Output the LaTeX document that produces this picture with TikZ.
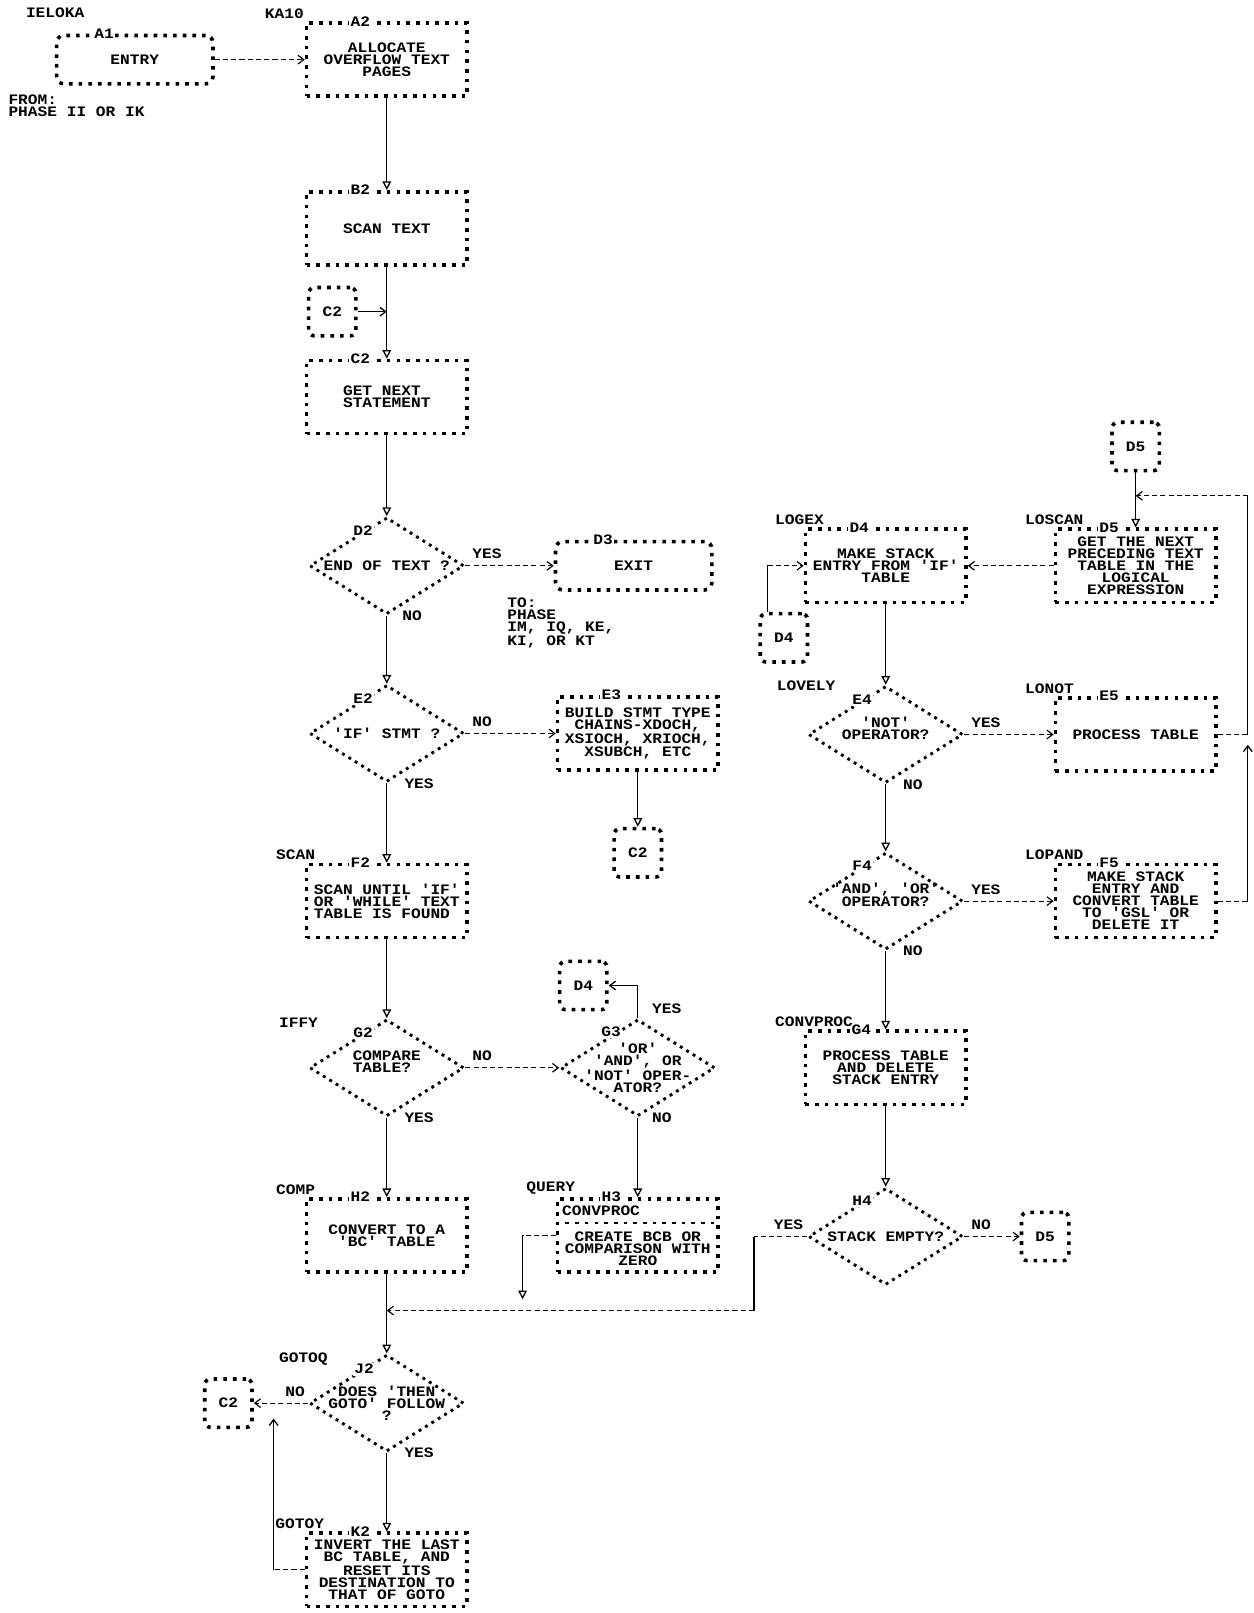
\documentclass[tikz,border=0pt]{standalone}
\usepackage{fontspec}
\setmonofont{Liberation Mono}[FakeStretch=1.12]
\usepackage{tikz}
\usetikzlibrary{arrows.meta}
\usetikzlibrary{positioning, shapes.geometric}
\newcommand{\lpfont}{\ttfamily\bfseries\fontsize{10pt}{8.3pt}\selectfont}
\tikzset{
    stars/.style={line width=2.5pt, dash pattern=on 2.5pt off 4.2pt},
    procbox/.style={rectangle, draw, stars, minimum width=3.9cm, minimum height=1.775cm, inner sep=0pt, align=center, font=\lpfont},
    termbox/.style={procbox, rounded corners=5pt, minimum width=3.8cm, minimum height=1.175cm},
    conn/.style={procbox, rounded corners=4pt, minimum width=1.15cm, minimum height=1.175cm},
    decide/.style={diamond, draw, line width=2pt, dash pattern=on 2pt off 3.2pt, minimum width=3.75cm, minimum height=2.35cm, inner sep=0pt},
    dtext/.style={font=\lpfont, align=center, inner sep=0pt},
    tag/.style={fill=white, inner sep=1pt, font=\lpfont},
    lab/.style={font=\lpfont, inner sep=0pt, align=left},
    yn/.style={font=\lpfont, inner sep=1pt},
    flow/.style={line width=0.9pt, -{Triangle[open, length=6pt, width=6pt]}},
    jump/.style={line width=0.8pt, dash pattern=on 3.5pt off 2.2pt, -{Straight Barb[length=4pt, width=6pt]}},
    jab/.style={line width=0.9pt, -{Straight Barb[length=4pt, width=6pt]}},
    wire/.style={line width=0.9pt},
    dwire/.style={line width=0.8pt, dash pattern=on 3.5pt off 2.2pt}
}
\begin{document}
\begin{tikzpicture}[on grid]
    \useasboundingbox (0,0) rectangle (30.475,-39.2);

    % left column
    \node[termbox] (a1) at (3.275,-1.45) {ENTRY};
    \node[procbox, right=6.125cm of a1] (a2) {ALLOCATE\\OVERFLOW TEXT\\PAGES};
    \node[procbox, below=4.1cm of a2] (b2) {SCAN TEXT};
    \node[procbox, below=4.1cm of b2, align=left] (c2) {GET NEXT\\STATEMENT};
    \node[conn, above left=2.075cm and 1.325cm of c2] (cc2a) {C2};
    \node[decide, below=4.1cm of c2, label={[dtext]center:{END OF TEXT ?}}] (d2) {};
    \node[termbox, right=6cm of d2] (d3) {EXIT};
    \node[decide, below=4.075cm of d2, label={[dtext]center:{'IF' STMT ?}}] (e2) {};
    \node[procbox, right=6.1cm of e2] (e3) {BUILD STMT TYPE\\CHAINS-XDOCH,\\XSIOCH, XRIOCH,\\XSUBCH, ETC};
    \node[conn, below=2.9cm of e3] (cc2b) {C2};
    \node[procbox, below=4.075cm of e2, align=left] (f2) {SCAN UNTIL 'IF'\\OR 'WHILE' TEXT\\TABLE IS FOUND};
    \node[decide, below=4.05cm of f2, label={[dtext, align=left, yshift=0.15cm]center:{COMPARE\\TABLE?}}] (g2) {};
    \node[decide, right=6.1cm of g2, label={[dtext]center:{'OR'\\'AND', OR\\'NOT' OPER-\\ATOR?}}] (g3) {};
    \node[conn, above left=2cm and 1.325cm of g3] (cd4a) {D4};
    \node[procbox, below=4.075cm of g2] (h2) {CONVERT TO A\\'BC' TABLE};
    \node[procbox, right=6.1cm of h2, label={[dtext, yshift=-0.325cm]center:{CREATE BCB OR\\COMPARISON WITH\\ZERO}}] (h3) {};
    \node[decide, below=4.075cm of h2, label={[dtext]center:{DOES 'THEN\\GOTO' FOLLOW\\?}}] (j2) {};
    \node[conn, left=3.85cm of j2] (cc2c) {C2};
    \node[procbox, below=4.05cm of j2] (k2) {INVERT THE LAST\\BC TABLE, AND\\RESET ITS\\DESTINATION TO\\THAT OF GOTO};

    % right part
    \node[procbox, right=6.125cm of d3] (d4) {MAKE STACK\\ENTRY FROM 'IF'\\TABLE};
    \node[procbox, right=6.075cm of d4] (d5) {GET THE NEXT\\PRECEDING TEXT\\TABLE IN THE\\LOGICAL\\EXPRESSION};
    \node[conn, above=2.9cm of d5] (cd5a) {D5};
    \node[conn, below left=1.75cm and 2.475cm of d4] (cd4b) {D4};
    \node[decide, below=4.1cm of d4, label={[dtext, yshift=0.15cm]center:{'NOT'\\OPERATOR?}}] (e4) {};
    \node[procbox, right=6.075cm of e4] (e5) {PROCESS TABLE};
    \node[decide, below=4.05cm of e4, label={[dtext, yshift=0.15cm]center:{'AND', 'OR'\\OPERATOR?}}] (f4) {};
    \node[procbox, right=6.075cm of f4] (f5) {MAKE STACK\\ENTRY AND\\CONVERT TABLE\\TO 'GSL' OR\\DELETE IT};
    \node[procbox, below=4.05cm of f4] (g4) {PROCESS TABLE\\AND DELETE\\STACK ENTRY};
    \node[decide, below=4.1cm of g4, label={[dtext]center:{STACK EMPTY?}}] (h4) {};
    \node[conn, right=3.875cm of h4] (cd5b) {D5};

    % block tags
    \node[tag] (ta1) at ([xshift=1.2cm]a1.north west) {A1};
    \node[tag] (ta2) at ([xshift=1.35cm]a2.north west) {A2};
    \node[tag] (tb2) at ([xshift=1.35cm]b2.north west) {B2};
    \node[tag] (tc2) at ([xshift=1.35cm]c2.north west) {C2};
    \node[tag] (td2) at ([shift={(-0.575cm,0.85cm)}]d2.center) {D2};
    \node[tag] (td3) at ([xshift=1.2cm]d3.north west) {D3};
    \node[tag] (te2) at ([shift={(-0.575cm,0.85cm)}]e2.center) {E2};
    \node[tag] (te3) at ([xshift=1.35cm]e3.north west) {E3};
    \node[tag] (tf2) at ([xshift=1.35cm]f2.north west) {F2};
    \node[tag] (tg2) at ([shift={(-0.575cm,0.85cm)}]g2.center) {G2};
    \node[tag] (tg3) at ([shift={(-0.65cm,0.875cm)}]g3.center) {G3};
    \node[tag] (th2) at ([xshift=1.35cm]h2.north west) {H2};
    \node[tag] (th3) at ([xshift=1.35cm]h3.north west) {H3};
    \node[tag] (tj2) at ([shift={(-0.55cm,0.825cm)}]j2.center) {J2};
    \node[tag] (tk2) at ([xshift=1.35cm]k2.north west) {K2};
    \node[tag] (td4) at ([xshift=1.35cm]d4.north west) {D4};
    \node[tag] (td5) at ([xshift=1.35cm]d5.north west) {D5};
    \node[tag] (te4) at ([shift={(-0.575cm,0.85cm)}]e4.center) {E4};
    \node[tag] (te5) at ([xshift=1.35cm]e5.north west) {E5};
    \node[tag] (tf4) at ([shift={(-0.575cm,0.85cm)}]f4.center) {F4};
    \node[tag] (tf5) at ([xshift=1.35cm]f5.north west) {F5};
    \node[tag] (tg4) at ([xshift=1.4cm]g4.north west) {G4};
    \node[tag] (th4) at ([shift={(-0.575cm,0.875cm)}]h4.center) {H4};

    % entry names and notes
    \node[lab, anchor=west] (lieloka) at (0.625,-0.3) {IELOKA};
    \node[lab, anchor=south west] (lka10) at ([shift={(-0.975cm,0.06cm)}]a2.north west) {KA10};
    \node[lab, anchor=north west] (lfrom) at (0.2,-2.29) {FROM:\\PHASE II OR IK};
    \node[lab, anchor=north west] (lto) at ([shift={(-3.075cm,-0.775cm)}]d3.center) {TO:\\PHASE\\IM, IQ, KE,\\KI, OR KT};
    \node[lab, anchor=south west] (lscan) at ([shift={(-0.7cm,0.06cm)}]f2.north west) {SCAN};
    \node[lab, anchor=west] (liffy) at ([shift={(-2.625cm,1.1cm)}]g2.center) {IFFY};
    \node[lab, anchor=south west] (lcomp) at ([shift={(-0.7cm,0.06cm)}]h2.north west) {COMP};
    \node[lab, anchor=south west] (lquery) at ([shift={(-0.72cm,0.06cm)}]h3.north west) {QUERY};
    \node[lab, anchor=west] (lgotoq) at ([shift={(-2.625cm,1.075cm)}]j2.center) {GOTOQ};
    \node[lab, anchor=south west] (lgotoy) at ([shift={(-0.72cm,0.06cm)}]k2.north west) {GOTOY};
    \node[lab, anchor=south west] (llogex) at ([shift={(-0.7cm,0.06cm)}]d4.north west) {LOGEX};
    \node[lab, anchor=south west] (lloscan) at ([shift={(-0.7cm,0.06cm)}]d5.north west) {LOSCAN};
    \node[lab, anchor=west] (llovely) at ([shift={(-2.65cm,1.175cm)}]e4.center) {LOVELY};
    \node[lab, anchor=south west] (llonot) at ([shift={(-0.7cm,0.06cm)}]e5.north west) {LONOT};
    \node[lab, anchor=south west] (llopand) at ([shift={(-0.7cm,0.06cm)}]f5.north west) {LOPAND};
    \node[lab, anchor=south west] (lconvproc) at ([shift={(-0.7cm,0.06cm)}]g4.north west) {CONVPROC};
    \node[lab, anchor=west] (lconv) at ([shift={(0.15cm,-0.325cm)}]h3.north west) {CONVPROC};
    \draw[stars, line width=1.6pt] ([yshift=-0.625cm]h3.north west) -- ([yshift=-0.625cm]h3.north east);

    % left column flow
    \draw[jump] (a1) -- (a2);
    \draw[flow] (a2) -- (b2);
    \draw[flow] (b2) -- (c2);
    \draw[jab] (cc2a) -- (cc2a -| b2.south);
    \draw[flow] (c2) -- (d2);
    \draw[jump] (d2) -- node[yn, pos=0, anchor=south west, xshift=0.12cm, yshift=0.12cm] {YES} (d3);
    \draw[flow] (d2) -- node[yn, pos=0, anchor=west, xshift=0.33cm] {NO} (e2);
    \draw[jump] (e2) -- node[yn, pos=0, anchor=south west, xshift=0.12cm, yshift=0.12cm] {NO} (e3);
    \draw[flow] (e3) -- (cc2b);
    \draw[flow] (e2) -- node[yn, pos=0, anchor=west, xshift=0.38cm] {YES} (f2);
    \draw[flow] (f2) -- (g2);
    \draw[jump] (g2) -- node[yn, pos=0, anchor=south west, xshift=0.12cm, yshift=0.12cm] {NO} (g3);
    \draw[jab] (g3.north) |- node[yn, pos=0, anchor=south west, xshift=0.3cm, yshift=0.05cm] {YES} (cd4a);
    \draw[flow] (g2) -- node[yn, pos=0, anchor=west, xshift=0.38cm] {YES} (h2);
    \draw[flow] (g3) -- node[yn, pos=0, anchor=west, xshift=0.3cm] {NO} (h3);
    \coordinate[below left=1.55cm and 2.8cm of h3] (qdrop);
    \draw[dwire] (h3.west) -- (h3.west -| qdrop);
    \draw[flow] (h3.west -| qdrop) -- (qdrop);
    \draw[flow] (h2) -- (j2);
    \draw[jump] (j2) -- node[yn, pos=0, anchor=south east, xshift=-0.03cm, yshift=0.12cm] {NO} (cc2c);
    \draw[flow] (j2) -- node[yn, pos=0, anchor=west, xshift=0.38cm] {YES} (k2);
    \coordinate[above left=3.675cm and 2.75cm of k2] (kup);
    \draw[dwire] (k2.west) -- (k2.west -| kup);
    \draw[jab] (k2.west -| kup) -- (kup);

    % right part flow
    \draw[flow] (cd5a) -- (d5);
    \draw[jump] (d5) -- (d4);
    \coordinate (lfoot) at ([xshift=0.22cm]cd4b.north west);
    \draw[wire] (lfoot) -- (lfoot |- d4.west);
    \draw[jump] (lfoot |- d4.west) -- (d4.west);
    \draw[flow] (d4) -- (e4);
    \draw[jump] (e4) -- node[yn, pos=0, anchor=south west, xshift=0.12cm, yshift=0.12cm] {YES} (e5);
    \draw[flow] (e4) -- node[yn, pos=0, anchor=west, xshift=0.37cm] {NO} (f4);
    \draw[jump] (f4) -- node[yn, pos=0, anchor=south west, xshift=0.12cm, yshift=0.12cm] {YES} (f5);
    \draw[flow] (f4) -- node[yn, pos=0, anchor=west, xshift=0.37cm] {NO} (g4);
    \draw[flow] (g4) -- (h4);
    \draw[jump] (h4) -- node[yn, pos=0, anchor=south west, xshift=0.12cm, yshift=0.12cm] {NO} (cd5b);
    \coordinate[above right=1.7cm and 2.725cm of d5] (rtop);
    \coordinate[below right=0.25cm and 2.725cm of e5] (rjoin);
    \draw[dwire] (e5) -- (e5 -| rtop);
    \draw[wire] (e5 -| rtop) -- (rtop);
    \draw[jump] (rtop) -- (rtop -| cd5a.south);
    \draw[dwire] (f5) -- (f5 -| rjoin);
    \draw[jab] (f5 -| rjoin) -- (rjoin);
    \coordinate[below left=1.8cm and 3.2cm of h4] (ybend);
    \draw[dwire] (h4) -- node[yn, pos=0, anchor=south east, xshift=-0.05cm, yshift=0.12cm] {YES} (h4 -| ybend);
    \draw[wire] (h4 -| ybend) -- (ybend);
    \draw[jump] (ybend) -- (ybend -| h2.south);
\end{tikzpicture}
\end{document}
